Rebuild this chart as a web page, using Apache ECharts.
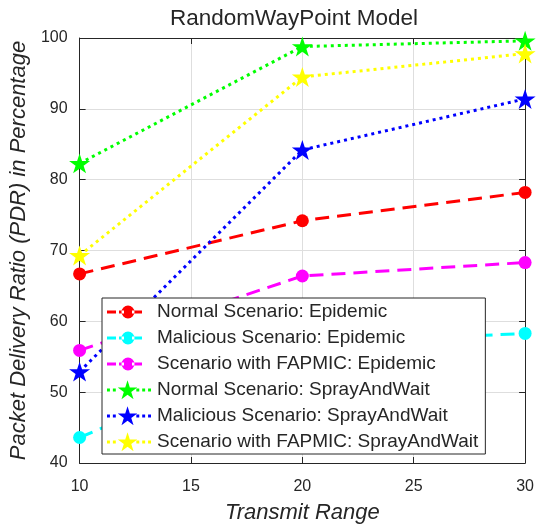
<!DOCTYPE html>
<html>
<head>
<meta charset="utf-8">
<script src="https://cdn.jsdelivr.net/npm/echarts@6/dist/echarts.min.js"></script>
<style>
  html, body { margin: 0; padding: 0; background: #fff; }
  #chart { width: 537px; height: 529px; }
</style>
</head>
<body>
<div id="chart"></div>
<script>
// Transmit range values on the x axis
const transmitRange = [10, 20, 30];

// Packet delivery ratio (%) for each scenario
const normalEpidemic = [66.7, 74.2, 78.2];
const maliciousEpidemic = [43.6, 56.8, 58.3];
const fapmicEpidemic = [55.9, 66.4, 68.3];
const normalSpray = [82.3, 98.8, 99.6];
const maliciousSpray = [52.9, 84.2, 91.4];
const fapmicSpray = [69.3, 94.5, 97.8];

const seriesNames = [
  'Normal Scenario: Epidemic',
  'Malicious Scenario: Epidemic',
  'Scenario with FAPMIC: Epidemic',
  'Normal Scenario: SprayAndWait',
  'Malicious Scenario: SprayAndWait',
  'Scenario with FAPMIC: SprayAndWait'
];

const xTicks = [10, 15, 20, 25, 30];
const yTicks = [40, 50, 60, 70, 80, 90, 100];

// Five-pointed star outline centred on (cx, cy)
function starPoints(cx, cy, R) {
  const pts = [];
  for (let i = 0; i < 10; i++) {
    const r = i % 2 === 0 ? R : R * 0.382;
    const a = -Math.PI / 2 + i * Math.PI / 5;
    pts.push((cx + r * Math.cos(a)).toFixed(2) + ',' + (cy + r * Math.sin(a)).toFixed(2));
  }
  return 'M' + pts.join('L') + 'Z';
}
const STAR = 'path://' + starPoints(50, 50, 50);

// Legend glyphs: a short styled line with the marker on it (44 x 22 box)
const ICON_W = 44, ICON_H = 22, MID = 11, MX = 21;
const box = `M0,0Z M${ICON_W},${ICON_H}Z `;
function rect(x0, x1, h) {
  return `M${x0},${MID - h / 2}L${x1},${MID - h / 2}L${x1},${MID + h / 2}L${x0},${MID + h / 2}Z `;
}
const dashedCircleIcon = 'path://' + box +
  rect(0, 9, 3) + rect(12, 17, 3) + rect(25, 35, 3) +
  `M${MX - 6.5},${MID}A6.5,6.5 0 1,0 ${MX + 6.5},${MID}A6.5,6.5 0 1,0 ${MX - 6.5},${MID}Z`;
let dots = '';
for (let x = 0; x <= 42; x += 6) { if (Math.abs(x + 1.5 - MX) > 9) dots += rect(x, x + 3, 3); }
const dottedStarIcon = 'path://' + box + dots + starPoints(MX, MID + 0.8, 10.5);

const FONT = '"Liberation Sans", Arial, Helvetica, sans-serif';
const INK = '#262626';

function pairs(ys) { return transmitRange.map((x, i) => [x, ys[i]]); }

function epidemicSeries(name, ys, color) {
  return {
    name, type: 'line', data: pairs(ys),
    symbol: 'circle', symbolSize: 13,
    lineStyle: { color, width: 3, type: [14, 8] },
    itemStyle: { color },
    z: 3
  };
}
function spraySeries(name, ys, color) {
  return {
    name, type: 'line', data: pairs(ys),
    symbol: STAR, symbolSize: 21, symbolKeepAspect: true,
    lineStyle: { color, width: 3, type: [3, 4] },
    itemStyle: { color },
    z: 3
  };
}

const chart = echarts.init(document.getElementById('chart'), null, { renderer: 'canvas' });

const axisCommon = {
  type: 'value',
  axisLine: { show: true, lineStyle: { color: INK, width: 1 } },
  axisTick: { show: true, inside: true, length: 6, lineStyle: { color: INK } }
};

chart.setOption({
  animation: false,
  backgroundColor: '#fff',
  textStyle: { fontFamily: FONT },
  title: {
    text: 'RandomWayPoint Model',
    left: 170, top: 7, padding: 0,
    textStyle: { fontFamily: FONT, fontSize: 22.5, fontWeight: 'normal', color: INK }
  },
  grid: { left: 77, right: 9, top: 38, bottom: 62, containLabel: false },
  xAxis: [
    Object.assign({}, axisCommon, {
      position: 'bottom', min: 10, max: 30, interval: 5,
      axisLabel: { fontSize: 16, color: INK, margin: 16, fontFamily: FONT,
        formatter: v => xTicks.includes(v) ? String(v) : '' },
      splitLine: { show: true, lineStyle: { color: '#dedede', width: 1 } },
      name: 'Transmit Range', nameLocation: 'middle', nameGap: 39,
      nameTextStyle: { fontFamily: FONT, fontSize: 22, fontStyle: 'italic', color: INK }
    }),
    Object.assign({}, axisCommon, {
      position: 'top', min: 10, max: 30, interval: 5,
      axisLabel: { show: false }, splitLine: { show: false }
    })
  ],
  yAxis: [
    Object.assign({}, axisCommon, {
      position: 'left', min: 40, max: 100, interval: 10,
      axisLabel: { fontSize: 16, color: INK, margin: 12, fontFamily: FONT,
        formatter: v => yTicks.includes(v) ? String(v) : '' },
      splitLine: { show: true, lineStyle: { color: '#dedede', width: 1 } },
      name: 'Packet Delivery Ratio (PDR) in Percentage', nameLocation: 'middle', nameGap: 48,
      nameTextStyle: { fontFamily: FONT, fontSize: 22, fontStyle: 'italic', color: INK }
    }),
    Object.assign({}, axisCommon, {
      position: 'right', min: 40, max: 100, interval: 10,
      axisLabel: { show: false }, splitLine: { show: false }
    })
  ],
  legend: {
    data: seriesNames.map((name, i) => ({ name, icon: i < 3 ? dashedCircleIcon : dottedStarIcon })),
    orient: 'vertical',
    left: 102, top: 298,
    padding: [3, 7, 1, 5],
    itemWidth: ICON_W, itemHeight: ICON_H, itemGap: 4,
    symbolKeepAspect: false,
    backgroundColor: '#fff',
    borderColor: INK, borderWidth: 1, borderRadius: 0,
    textStyle: { fontFamily: FONT, fontSize: 19, lineHeight: 20, color: INK, padding: [0, 0, 0, 1] },
    z: 10
  },
  series: [
    epidemicSeries(seriesNames[0], normalEpidemic, '#ff0000'),
    epidemicSeries(seriesNames[1], maliciousEpidemic, '#00ffff'),
    epidemicSeries(seriesNames[2], fapmicEpidemic, '#ff00ff'),
    spraySeries(seriesNames[3], normalSpray, '#00ff00'),
    spraySeries(seriesNames[4], maliciousSpray, '#0000ff'),
    spraySeries(seriesNames[5], fapmicSpray, '#ffff00')
  ]
});
</script>
</body>
</html>
